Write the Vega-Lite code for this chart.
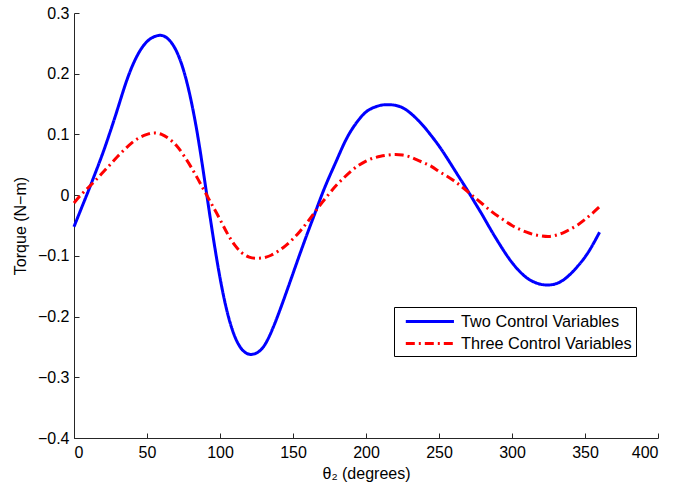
{
  "$schema": "https://vega.github.io/schema/vega-lite/v6.json",
  "autosize": {"type": "none"},
  "width": 584,
  "height": 425,
  "padding": {"left": 74, "top": 13, "right": 17, "bottom": 49},
  "background": "white",
  "config": {
    "view": {"stroke": null},
    "font": "Liberation Sans",
    "axis": {
      "grid": false,
      "domainColor": "#262626",
      "tickColor": "#262626",
      "labelColor": "#000000",
      "titleColor": "#000000",
      "labelFont": "Liberation Sans",
      "titleFont": "Liberation Sans",
      "labelFontSize": 16,
      "titleFontSize": 16,
      "titleFontWeight": "normal",
      "tickSize": -5,
      "labelPadding": 10
    }
  },
  "datasets": {
    "two": [
      {"theta": 0, "torque": -0.052}, {"theta": 5, "torque": -0.022}, {"theta": 10, "torque": 0.008},
      {"theta": 15, "torque": 0.039}, {"theta": 20, "torque": 0.071}, {"theta": 25, "torque": 0.106},
      {"theta": 30, "torque": 0.143}, {"theta": 35, "torque": 0.181}, {"theta": 40, "torque": 0.213},
      {"theta": 45, "torque": 0.237}, {"theta": 50, "torque": 0.253}, {"theta": 55, "torque": 0.261},
      {"theta": 60, "torque": 0.263}, {"theta": 65, "torque": 0.256}, {"theta": 70, "torque": 0.238},
      {"theta": 75, "torque": 0.206}, {"theta": 80, "torque": 0.158}, {"theta": 85, "torque": 0.094},
      {"theta": 90, "torque": 0.016}, {"theta": 95, "torque": -0.064}, {"theta": 100, "torque": -0.136},
      {"theta": 105, "torque": -0.193}, {"theta": 110, "torque": -0.232}, {"theta": 115, "torque": -0.254},
      {"theta": 120, "torque": -0.262}, {"theta": 125, "torque": -0.260}, {"theta": 130, "torque": -0.249},
      {"theta": 135, "torque": -0.226}, {"theta": 140, "torque": -0.196}, {"theta": 145, "torque": -0.163},
      {"theta": 150, "torque": -0.129}, {"theta": 155, "torque": -0.095}, {"theta": 160, "torque": -0.062},
      {"theta": 165, "torque": -0.030}, {"theta": 170, "torque": 0.002}, {"theta": 175, "torque": 0.031},
      {"theta": 180, "torque": 0.058}, {"theta": 185, "torque": 0.085}, {"theta": 190, "torque": 0.107},
      {"theta": 195, "torque": 0.124}, {"theta": 200, "torque": 0.137}, {"theta": 205, "torque": 0.144},
      {"theta": 210, "torque": 0.148}, {"theta": 215, "torque": 0.149}, {"theta": 220, "torque": 0.148},
      {"theta": 225, "torque": 0.144}, {"theta": 230, "torque": 0.136}, {"theta": 235, "torque": 0.125},
      {"theta": 240, "torque": 0.112}, {"theta": 245, "torque": 0.097}, {"theta": 250, "torque": 0.081},
      {"theta": 255, "torque": 0.063}, {"theta": 260, "torque": 0.044}, {"theta": 265, "torque": 0.025},
      {"theta": 270, "torque": 0.006}, {"theta": 275, "torque": -0.014}, {"theta": 280, "torque": -0.034},
      {"theta": 285, "torque": -0.055}, {"theta": 290, "torque": -0.075}, {"theta": 295, "torque": -0.094},
      {"theta": 300, "torque": -0.111}, {"theta": 305, "torque": -0.125}, {"theta": 310, "torque": -0.136},
      {"theta": 315, "torque": -0.143}, {"theta": 320, "torque": -0.147}, {"theta": 325, "torque": -0.148},
      {"theta": 330, "torque": -0.146}, {"theta": 335, "torque": -0.140}, {"theta": 340, "torque": -0.130},
      {"theta": 345, "torque": -0.117}, {"theta": 350, "torque": -0.102}, {"theta": 355, "torque": -0.083},
      {"theta": 360, "torque": -0.061}
    ],
    "three": [
      {"theta": 0, "torque": -0.013}, {"theta": 5, "torque": 0.001}, {"theta": 10, "torque": 0.013},
      {"theta": 15, "torque": 0.025}, {"theta": 20, "torque": 0.038}, {"theta": 25, "torque": 0.051},
      {"theta": 30, "torque": 0.064}, {"theta": 35, "torque": 0.076}, {"theta": 40, "torque": 0.087},
      {"theta": 45, "torque": 0.095}, {"theta": 50, "torque": 0.100}, {"theta": 55, "torque": 0.1025},
      {"theta": 60, "torque": 0.100}, {"theta": 65, "torque": 0.093}, {"theta": 70, "torque": 0.082},
      {"theta": 75, "torque": 0.066}, {"theta": 80, "torque": 0.047}, {"theta": 85, "torque": 0.026},
      {"theta": 90, "torque": 0.004}, {"theta": 95, "torque": -0.018}, {"theta": 100, "torque": -0.040},
      {"theta": 105, "torque": -0.063}, {"theta": 110, "torque": -0.082}, {"theta": 115, "torque": -0.095},
      {"theta": 120, "torque": -0.102}, {"theta": 125, "torque": -0.104}, {"theta": 130, "torque": -0.103},
      {"theta": 135, "torque": -0.099}, {"theta": 140, "torque": -0.092}, {"theta": 145, "torque": -0.083},
      {"theta": 150, "torque": -0.072}, {"theta": 155, "torque": -0.059}, {"theta": 160, "torque": -0.044},
      {"theta": 165, "torque": -0.028}, {"theta": 170, "torque": -0.012}, {"theta": 175, "torque": 0.003},
      {"theta": 180, "torque": 0.017}, {"theta": 185, "torque": 0.029}, {"theta": 190, "torque": 0.040},
      {"theta": 195, "torque": 0.049}, {"theta": 200, "torque": 0.056}, {"theta": 205, "torque": 0.061},
      {"theta": 210, "torque": 0.064}, {"theta": 215, "torque": 0.066}, {"theta": 220, "torque": 0.067},
      {"theta": 225, "torque": 0.066}, {"theta": 230, "torque": 0.063}, {"theta": 235, "torque": 0.058},
      {"theta": 240, "torque": 0.053}, {"theta": 245, "torque": 0.047}, {"theta": 250, "torque": 0.039},
      {"theta": 255, "torque": 0.032}, {"theta": 260, "torque": 0.024}, {"theta": 265, "torque": 0.015},
      {"theta": 270, "torque": 0.005}, {"theta": 275, "torque": -0.005}, {"theta": 280, "torque": -0.015},
      {"theta": 285, "torque": -0.025}, {"theta": 290, "torque": -0.034}, {"theta": 295, "torque": -0.042},
      {"theta": 300, "torque": -0.050}, {"theta": 305, "torque": -0.056}, {"theta": 310, "torque": -0.061},
      {"theta": 315, "torque": -0.065}, {"theta": 320, "torque": -0.067}, {"theta": 325, "torque": -0.068},
      {"theta": 330, "torque": -0.066}, {"theta": 335, "torque": -0.062}, {"theta": 340, "torque": -0.056},
      {"theta": 345, "torque": -0.049}, {"theta": 350, "torque": -0.040}, {"theta": 355, "torque": -0.030},
      {"theta": 360, "torque": -0.019}
    ]
  },
  "data": {"name": "two"},
  "transform": [
    {"calculate": "'Two Control Variables'", "as": "series"}
  ],
  "layer": [
    {
      "mark": {"type": "line", "strokeWidth": 3, "interpolate": "natural", "strokeCap": "butt"},
      "encoding": {
        "x": {
          "field": "theta",
          "type": "quantitative",
          "scale": {"domain": [0, 400], "nice": false, "zero": false},
          "axis": {"values": [0, 50, 100, 150, 200, 250, 300, 350, 400], "title": "θ₂ (degrees)", "titlePadding": 5, "labelPadding": 11}
        },
        "y": {
          "field": "torque",
          "type": "quantitative",
          "scale": {"domain": [-0.4, 0.3], "nice": false, "zero": false},
          "axis": {"values": [-0.4, -0.3, -0.2, -0.1, 0, 0.1, 0.2, 0.3], "format": "~g", "title": "Torque (N−m)", "titlePadding": 9}
        },
        "color": {
          "field": "series",
          "type": "nominal",
          "scale": {"domain": ["Two Control Variables", "Three Control Variables"], "range": ["#0000FF", "#FF0000"]},
          "legend": {
            "title": null,
            "orient": "none",
            "legendX": 320,
            "legendY": 294,
            "direction": "vertical",
            "strokeColor": "#000000",
            "fillColor": "#FFFFFF",
            "padding": 4,
            "symbolType": "M-0.3,0H5.05",
            "symbolSize": 324,
            "symbolStrokeWidth": 3,
            "labelFontSize": 16.3,
            "labelFont": "Liberation Sans",
            "labelColor": "#000000",
            "labelOffset": 42,
            "labelLimit": 400,
            "labelExpr": "datum.label + '   '",
            "rowPadding": 3
          }
        },
        "strokeDash": {
          "field": "series",
          "type": "nominal",
          "scale": {"domain": ["Two Control Variables", "Three Control Variables"], "range": [[1, 0], [9, 4, 2, 4]]},
          "legend": null
        }
      }
    },
    {
      "data": {"name": "three"},
      "transform": [
        {"calculate": "'Three Control Variables'", "as": "series"}
      ],
      "mark": {"type": "line", "strokeWidth": 3, "interpolate": "natural", "strokeCap": "butt"},
      "encoding": {
        "x": {"field": "theta", "type": "quantitative"},
        "y": {"field": "torque", "type": "quantitative"},
        "color": {"field": "series", "type": "nominal"},
        "strokeDash": {"field": "series", "type": "nominal"}
      }
    }
  ]
}
